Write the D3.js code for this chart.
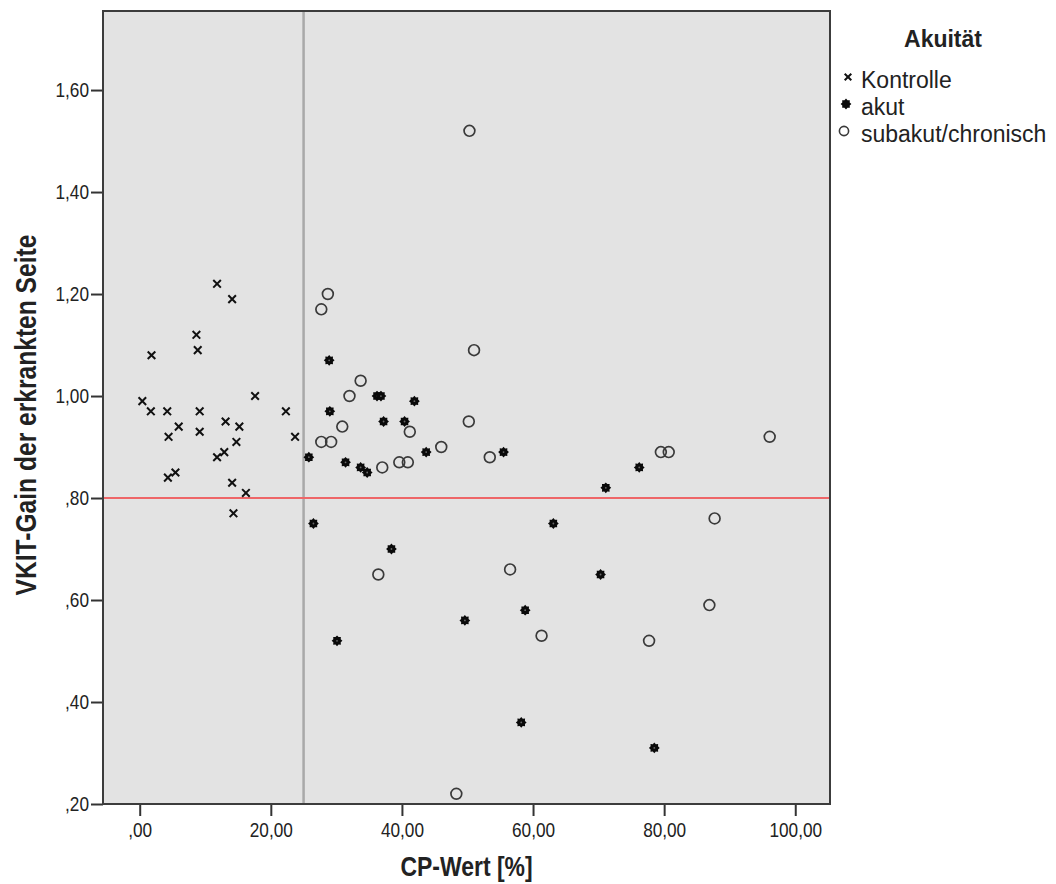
<!DOCTYPE html>
<html>
<head>
<meta charset="utf-8">
<script src="https://cdn.jsdelivr.net/npm/d3@7"></script>
<style>
  html, body { margin: 0; padding: 0; background: #ffffff; }
  svg { display: block; }
</style>
</head>
<body>
<svg id="chart" width="1056" height="884"></svg>
<script>
// CP-Wert [%] vs. VKIT-Gain, grouped by acuity
const kontrolle = [
  [11.8, 1.22], [14.1, 1.19], [8.65, 1.12], [8.85, 1.09], [1.8, 1.08],
  [17.6, 1.00], [0.4, 0.99], [1.7, 0.97], [4.2, 0.97], [9.15, 0.97],
  [22.3, 0.97], [13.1, 0.95], [15.2, 0.94], [5.95, 0.94], [9.15, 0.93],
  [4.4, 0.92], [23.7, 0.92], [14.75, 0.91], [12.9, 0.89], [11.8, 0.88],
  [5.45, 0.85], [4.3, 0.84], [14.1, 0.83], [16.2, 0.81], [14.3, 0.77]
];
const akut = [
  [28.9, 1.07], [36.2, 1.00], [36.8, 1.00], [41.9, 0.99], [29.0, 0.97],
  [37.2, 0.95], [40.4, 0.95], [25.8, 0.88], [31.4, 0.87], [33.7, 0.86],
  [34.7, 0.85], [43.7, 0.89], [26.5, 0.75], [55.5, 0.89], [71.1, 0.82],
  [76.2, 0.86], [63.1, 0.75], [38.4, 0.70], [70.3, 0.65], [58.8, 0.58],
  [49.6, 0.56], [30.1, 0.52], [58.2, 0.36], [78.5, 0.31]
];
const subakutChronisch = [
  [28.7, 1.20], [27.7, 1.17], [33.7, 1.03], [32.0, 1.00], [30.9, 0.94],
  [27.7, 0.91], [29.2, 0.91], [41.2, 0.93], [51.0, 1.09], [50.2, 0.95],
  [46.0, 0.90], [37.0, 0.86], [39.6, 0.87], [40.9, 0.87], [53.4, 0.88],
  [50.3, 1.52], [79.5, 0.89], [80.7, 0.89], [36.4, 0.65], [56.5, 0.66],
  [61.3, 0.53], [77.7, 0.52], [48.3, 0.22], [96.1, 0.92], [87.7, 0.76],
  [86.9, 0.59]
];

const groupNames = ["Kontrolle", "akut", "subakut/chronisch"];
const xTicks = [0, 20, 40, 60, 80, 100];
const yTicks = [0.2, 0.4, 0.6, 0.8, 1.0, 1.2, 1.4, 1.6];
const refX = 25;   // vertical reference line (CP-Wert)
const refY = 0.8;  // horizontal reference line (VKIT-Gain)

const svg = d3.select("#chart");
const plot = { left: 103, right: 830, top: 11, bottom: 804 };

const x = d3.scaleLinear().domain([-5.6, 105.3]).range([plot.left, plot.right]);
const y = d3.scaleLinear().domain([0.2, 1.755]).range([plot.bottom, plot.top]);

// German number format: ",00" / "1,60"
const fmt = v => {
  const s = v.toFixed(2).replace(".", ",");
  return s.startsWith("0,") ? s.slice(1) : s;
};

const sans = "'Liberation Sans', Arial, sans-serif";
const narrow = 0.82; // horizontal squeeze for the condensed axis lettering

// plot area background
svg.append("rect")
  .attr("x", plot.left).attr("y", plot.top)
  .attr("width", plot.right - plot.left).attr("height", plot.bottom - plot.top)
  .attr("fill", "#e3e3e3");

// reference lines
svg.append("line")
  .attr("x1", x(refX)).attr("x2", x(refX))
  .attr("y1", plot.top).attr("y2", plot.bottom)
  .attr("stroke", "#a9a9a9").attr("stroke-width", 2.5);
svg.append("line")
  .attr("x1", plot.left).attr("x2", plot.right)
  .attr("y1", y(refY)).attr("y2", y(refY))
  .attr("stroke", "#ee6668").attr("stroke-width", 2.2);

// axes
const xAxis = d3.axisBottom(x).tickValues(xTicks).tickFormat(fmt).tickSize(12).tickPadding(6);
const yAxis = d3.axisLeft(y).tickValues(yTicks).tickFormat(fmt).tickSize(12).tickPadding(2);

const gx = svg.append("g").attr("transform", `translate(0,${plot.bottom})`).call(xAxis);
const gy = svg.append("g").attr("transform", `translate(${plot.left},0)`).call(yAxis);
[gx, gy].forEach(g => {
  g.select(".domain").remove();
  g.selectAll(".tick line").attr("stroke", "#333").attr("stroke-width", 2);
  g.selectAll(".tick text")
    .attr("font-family", sans)
    .attr("font-size", 21)
    .attr("fill", "#222");
});
gx.selectAll(".tick text").attr("transform", `scale(${narrow},1)`);
gy.selectAll(".tick text")
  .attr("x", -14 / narrow)
  .attr("transform", `scale(${narrow},1)`);

// markers
const markers = svg.append("g");

const crossPath = s => `M${-s},${-s}L${s},${s}M${-s},${s}L${s},${-s}`;

markers.selectAll("path.kontrolle")
  .data(kontrolle).join("path")
  .attr("class", "kontrolle")
  .attr("transform", d => `translate(${x(d[0])},${y(d[1])})`)
  .attr("d", crossPath(3.8))
  .attr("stroke", "#111").attr("stroke-width", 2).attr("fill", "none");

// burst shape for the acute group
const burst = (() => {
  const pts = [];
  const n = 8;
  for (let i = 0; i < n * 2; i++) {
    const r = i % 2 === 0 ? 5.4 : 4.0;
    const a = (Math.PI / n) * i;
    pts.push([r * Math.sin(a), -r * Math.cos(a)]);
  }
  return "M" + pts.map(p => p[0].toFixed(2) + "," + p[1].toFixed(2)).join("L") + "Z";
})();

const akutG = markers.selectAll("g.akut")
  .data(akut).join("g")
  .attr("class", "akut")
  .attr("transform", d => `translate(${x(d[0])},${y(d[1])})`);
akutG.append("path").attr("d", burst).attr("fill", "#0a0a0a");
akutG.append("circle").attr("r", 0.9).attr("fill", "#6a6a6a");

markers.selectAll("circle.sub")
  .data(subakutChronisch).join("circle")
  .attr("class", "sub")
  .attr("cx", d => x(d[0])).attr("cy", d => y(d[1]))
  .attr("r", 5.4)
  .attr("fill", "none").attr("stroke", "#3a3a3a").attr("stroke-width", 1.7);

// frame
svg.append("rect")
  .attr("x", plot.left).attr("y", plot.top)
  .attr("width", plot.right - plot.left).attr("height", plot.bottom - plot.top)
  .attr("fill", "none").attr("stroke", "#3c3c3c").attr("stroke-width", 2);

// axis titles (condensed bold)
svg.append("text")
  .attr("transform", `translate(${(plot.left + plot.right) / 2},876) scale(${narrow},1)`)
  .attr("text-anchor", "middle")
  .attr("font-family", sans)
  .attr("font-weight", "bold").attr("font-size", 28).attr("fill", "#222")
  .text("CP-Wert [%]");

svg.append("text")
  .attr("transform", `translate(36,415) rotate(-90) scale(${narrow},1)`)
  .attr("text-anchor", "middle")
  .attr("font-family", sans)
  .attr("font-weight", "bold").attr("font-size", 30).attr("fill", "#222")
  .text("VKIT-Gain der erkrankten Seite");

// legend
const legend = svg.append("g");
legend.append("text")
  .attr("x", 943).attr("y", 47)
  .attr("text-anchor", "middle")
  .attr("font-family", sans)
  .attr("font-weight", "bold").attr("font-size", 23).attr("fill", "#222")
  .text("Akuität");

const legBase = [88, 115, 142];
groupNames.forEach((name, i) => {
  const base = legBase[i];
  const my = base - 11;
  if (i === 0) {
    legend.append("path")
      .attr("transform", `translate(848,${my})`)
      .attr("d", crossPath(3.3))
      .attr("stroke", "#111").attr("stroke-width", 2);
  } else if (i === 1) {
    legend.append("path").attr("transform", `translate(846,${my})`)
      .attr("d", burst).attr("fill", "#0a0a0a");
  } else {
    legend.append("circle").attr("cx", 844).attr("cy", my).attr("r", 4.6)
      .attr("fill", "none").attr("stroke", "#3a3a3a").attr("stroke-width", 1.6);
  }
  legend.append("text")
    .attr("x", 861).attr("y", base)
    .attr("font-family", sans)
    .attr("font-size", 23).attr("fill", "#222")
    .text(name);
});
</script>
</body>
</html>
